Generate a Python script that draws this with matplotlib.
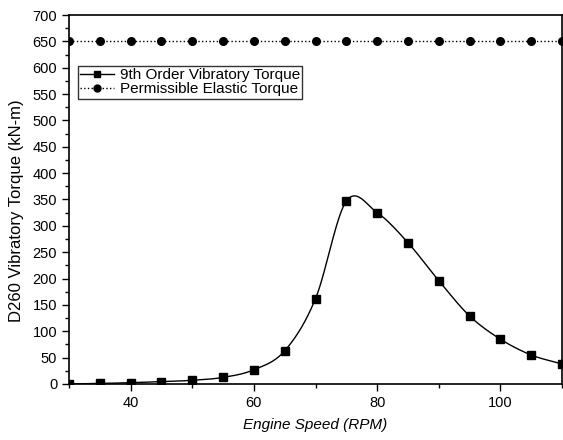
import numpy as np
import matplotlib
matplotlib.use('Agg')
import matplotlib.pyplot as plt
from matplotlib.ticker import MultipleLocator

plt.rcParams['font.family'] = ['Liberation Sans', 'DejaVu Sans']

# engine speed (RPM)
speed = [30, 35, 40, 45, 50, 55, 60, 65, 70, 75, 80, 85, 90, 95, 100, 105, 110]
# 9th order vibratory torque (kN-m)
torque_9th = [0, 1, 2.5, 4.5, 7, 12.5, 27, 63, 162, 347, 325, 268, 196, 129, 85, 55, 38]
# permissible elastic torque (kN-m)
permissible = [650] * len(speed)


def smooth_line(x, y, n=30):
    # Catmull-Rom style connecting line through the points
    x = np.asarray(x, float)
    y = np.asarray(y, float)
    m = np.gradient(y, x)
    m[1:-1] = (y[2:] - y[:-2]) / (x[2:] - x[:-2])
    xs_all, ys_all = [], []
    for i in range(len(x) - 1):
        h = x[i + 1] - x[i]
        t = np.linspace(0, 1, n)
        h00 = 2 * t**3 - 3 * t**2 + 1
        h10 = t**3 - 2 * t**2 + t
        h01 = -2 * t**3 + 3 * t**2
        h11 = t**3 - t**2
        xs_all.append(x[i] + t * h)
        ys_all.append(h00 * y[i] + h10 * h * m[i] + h01 * y[i + 1] + h11 * h * m[i + 1])
    return np.concatenate(xs_all), np.concatenate(ys_all)


fig = plt.figure(figsize=(5.63, 4.40), dpi=100)
ax = fig.add_axes([0.1226, 0.1273, 0.8757, 0.8386])

xs, ys = smooth_line(speed, torque_9th)
ax.plot(xs, ys, color='black', lw=1.0)
ax.plot(speed, torque_9th, 's', color='black', ms=5.5)
h1, = ax.plot([], [], '-s', color='black', lw=1.0, ms=5)

ax.plot(speed, permissible, ':o', color='black', lw=1.0, ms=5.5)
h2, = ax.plot([], [], ':o', color='black', lw=1.0, ms=5)

leg = ax.legend([h1, h2], ['9th Order Vibratory Torque', 'Permissible Elastic Torque'],
                loc='upper left', bbox_to_anchor=(0.018, 0.862), fontsize=11,
                frameon=True, fancybox=False, edgecolor='black',
                handlelength=2.2, handletextpad=0.4, borderpad=0.15,
                labelspacing=0.0, borderaxespad=0)
leg.get_frame().set_linewidth(1.0)

ax.set_xlim(30, 110)
ax.set_ylim(0, 700)
ax.xaxis.set_major_locator(MultipleLocator(20))
ax.xaxis.set_minor_locator(MultipleLocator(10))
ax.yaxis.set_major_locator(MultipleLocator(50))
ax.yaxis.set_minor_locator(MultipleLocator(25))
ax.tick_params(which='major', direction='out', length=5, width=1, labelsize=10.5)
ax.tick_params(which='minor', direction='out', length=3, width=1)
for s in ax.spines.values():
    s.set_linewidth(1.2)

ax.set_xlabel('Engine Speed (RPM)', fontsize=11, style='italic', labelpad=6)
ax.set_ylabel('D260 Vibratory Torque (kN-m)', fontsize=12)
ax.yaxis.set_label_coords(-0.091, 0.47)

fig.savefig('out.png', dpi=100)
